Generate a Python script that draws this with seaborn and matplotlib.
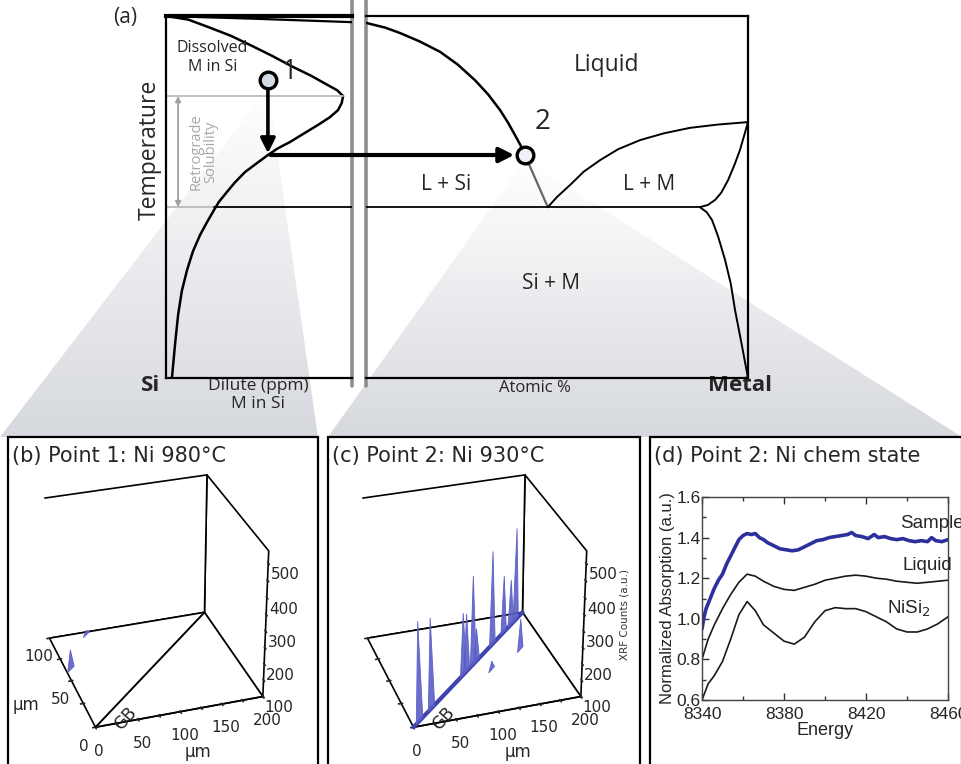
import numpy as np
import pandas as pd
import matplotlib
matplotlib.use("Agg")
import matplotlib.pyplot as plt
import seaborn as sns
from matplotlib.patches import Polygon, Rectangle
from mpl_toolkits.mplot3d.art3d import Poly3DCollection

# ---------------- data ----------------
# (a) schematic phase diagram, composition and temperature normalised 0-1
solvus_x = [0.0, 0.12, 0.24, 0.35, 0.46, 0.57, 0.68, 0.78, 0.86, 0.92, 0.952, 0.945, 0.925, 0.88, 0.817, 0.74, 0.667, 0.60, 0.548, 0.49, 0.425, 0.37, 0.323, 0.285, 0.258, 0.22, 0.183, 0.145, 0.113, 0.085, 0.065, 0.048, 0.032]
solvus_T = [1.0, 0.99, 0.967, 0.945, 0.918, 0.89, 0.86, 0.835, 0.812, 0.795, 0.779, 0.76, 0.74, 0.72, 0.699, 0.675, 0.652, 0.634, 0.616, 0.594, 0.569, 0.54, 0.511, 0.487, 0.464, 0.43, 0.395, 0.35, 0.298, 0.24, 0.174, 0.09, 0.0]
liqL_x = [0.0, 0.5, 1.0]
liqL_T = [1.0, 0.992, 0.983]
liqSi_x = [0.0, 0.05, 0.089, 0.14, 0.194, 0.24, 0.285, 0.32, 0.351, 0.372, 0.39, 0.405, 0.416]
liqSi_T = [0.981, 0.968, 0.953, 0.93, 0.901, 0.866, 0.823, 0.783, 0.740, 0.705, 0.671, 0.642, 0.616]
liqEu_x = [0.416, 0.476]
liqEu_T = [0.616, 0.472]
liqM_x = [0.476, 0.50, 0.534, 0.57, 0.613, 0.66, 0.717, 0.78, 0.848, 0.92, 1.0]
liqM_T = [0.472, 0.50, 0.533, 0.57, 0.602, 0.632, 0.657, 0.676, 0.691, 0.700, 0.707]
solM_x = [1.0, 0.99, 0.979, 0.965, 0.948, 0.93, 0.914, 0.895, 0.874]
solM_T = [0.707, 0.67, 0.630, 0.59, 0.547, 0.512, 0.492, 0.478, 0.472]
solvM_x = [0.874, 0.892, 0.906, 0.922, 0.940, 0.955, 0.966, 0.984, 1.0]
solvM_T = [0.472, 0.458, 0.436, 0.39, 0.326, 0.26, 0.188, 0.09, 0.0]
T_eut = 0.472
T_retro = 0.779
point1 = (0.548, 0.823)
point2 = (0.416, 0.616)
T_arrow = 0.616

# (b)/(c) XRF maps: spots (x um, y um, peak counts)
b_spot_x = [6.0, 45.0]
b_spot_y = [62.0, 97.0]
b_spot_z = [160.0, 112.0]
c_gb_frac = [0.05, 0.15, 0.43, 0.46, 0.52, 0.55, 0.70, 0.81, 0.88, 0.93]
c_gb_z = [397.0, 372.0, 290.0, 277.0, 373.0, 200.0, 390.0, 279.0, 243.0, 390.0]
c_off_x = [168.0, 121.0]
c_off_y = [59.0, 43.0]
c_off_z = [195.0, 125.0]
x_ticks = [0, 25, 50, 75, 100, 125, 150, 175, 200]
x_ticklabels = ["0", "", "50", "", "100", "", "150", "", "200"]
y_ticks = [0, 25, 50, 75, 100]
y_ticklabels = ["0", "", "50", "", "100"]
z_ticks = [100, 150, 200, 250, 300, 350, 400, 450, 500]
z_ticklabels = ["100", "", "200", "", "300", "", "400", "", "500"]

# (d) XANES
energy_s = [8340, 8341, 8342, 8344, 8346, 8348, 8350, 8352, 8354, 8356, 8358, 8360, 8362, 8364, 8366, 8368, 8370, 8372, 8375, 8378, 8381, 8384, 8387, 8390, 8393, 8396, 8399, 8402, 8405, 8408, 8411, 8413, 8415, 8418, 8421, 8424, 8426, 8429, 8432, 8435, 8438, 8441, 8444, 8447, 8450, 8452, 8454, 8457, 8460]
sample = [0.95, 1.01, 1.05, 1.10, 1.15, 1.19, 1.22, 1.27, 1.31, 1.35, 1.39, 1.41, 1.42, 1.415, 1.42, 1.40, 1.39, 1.375, 1.36, 1.345, 1.34, 1.335, 1.34, 1.355, 1.37, 1.385, 1.39, 1.40, 1.405, 1.41, 1.415, 1.425, 1.41, 1.405, 1.395, 1.415, 1.40, 1.405, 1.395, 1.39, 1.395, 1.385, 1.38, 1.385, 1.38, 1.40, 1.385, 1.38, 1.39]
energy_r = [8340, 8343, 8346, 8350, 8354, 8358, 8362, 8366, 8370, 8375, 8380, 8385, 8390, 8395, 8400, 8405, 8410, 8415, 8420, 8425, 8430, 8435, 8440, 8445, 8450, 8455, 8460]
liquid = [0.80, 0.90, 0.97, 1.05, 1.12, 1.18, 1.22, 1.21, 1.185, 1.16, 1.145, 1.14, 1.155, 1.17, 1.19, 1.20, 1.21, 1.215, 1.21, 1.20, 1.195, 1.185, 1.18, 1.175, 1.18, 1.185, 1.19]
nisi2 = [0.60, 0.68, 0.72, 0.79, 0.90, 1.02, 1.085, 1.04, 0.97, 0.93, 0.89, 0.875, 0.91, 0.985, 1.04, 1.055, 1.05, 1.05, 1.035, 1.01, 0.985, 0.95, 0.935, 0.935, 0.95, 0.975, 1.01]

# ---------------- figure ----------------
W, H = 962, 764
sns.set_theme(style="white")
plt.rcParams["font.family"] = ["DejaVu Sans"]
fig = plt.figure(figsize=(W / 100, H / 100), dpi=100)


def rect(x0, y0, x1, y1):
    return [x0 / W, 1 - y1 / H, (x1 - x0) / W, (y1 - y0) / H]


bg = fig.add_axes([0, 0, 1, 1], zorder=0)
bg.set_xlim(0, W)
bg.set_ylim(H, 0)
bg.axis("off")

# gradient wedges
grad = np.linspace(0, 1, 256)[:, None, None]
top_c = np.array([1.0, 1.0, 1.0])
bot_c = np.array([0.84, 0.85, 0.87])
img = top_c * (1 - grad) + bot_c * grad
for verts, ytop in [([(268, 88), (0, 437), (318, 437)], 88), ([(525, 160), (328, 437), (962, 437)], 160)]:
    poly = Polygon(verts, closed=True, facecolor="none", edgecolor="none")
    bg.add_patch(poly)
    im = bg.imshow(img, extent=(0, W, 437, ytop), aspect="auto", zorder=1)
    im.set_clip_path(poly)
bg.set_xlim(0, W)
bg.set_ylim(H, 0)

# separators
for xs in (352, 366):
    bg.plot([xs, xs], [0, 386], color="#8e8e8e", lw=2.6, zorder=5)

# bottom frames
for x0, x1 in [(8, 318), (328, 640), (650, 962)]:
    bg.add_patch(Rectangle((x0, 437), x1 - x0, 330, facecolor="white", edgecolor="black", lw=1.6, zorder=3))

# ---------------- panel (a) ----------------
OS = ["Open Sans", "DejaVu Sans"]
axL = fig.add_axes(rect(166, 16, 352, 378), zorder=4)
axR = fig.add_axes(rect(366, 16, 748, 378), zorder=4)
for ax in (axL, axR):
    ax.set_xlim(0, 1)
    ax.set_ylim(0, 1)
    ax.set_facecolor("none")
    ax.set_xticks([])
    ax.set_yticks([])
    for s in ax.spines.values():
        s.set_color("black")
        s.set_linewidth(1.6)
axL.spines["right"].set_visible(False)
axL.spines["top"].set_linewidth(3)
axR.spines["left"].set_visible(False)

def curve(ax, xs, ys, color="black", lw=1.8):
    sns.lineplot(x=xs, y=ys, ax=ax, sort=False, estimator=None, color=color, lw=lw)

curve(axL, solvus_x, solvus_T)
curve(axL, liqL_x, liqL_T, lw=1.6)
curve(axR, liqSi_x, liqSi_T)
curve(axR, liqEu_x, liqEu_T, color="#666666", lw=1.6)
curve(axR, liqM_x, liqM_T, lw=1.4)
curve(axR, solM_x, solM_T, lw=1.4)
curve(axR, solvM_x, solvM_T, lw=1.4)

# horizontal lines
axL.plot([0, 0.952], [T_retro, T_retro], color="#bbbbbb", lw=1.3)
axL.plot([0, 0.26], [T_eut, T_eut], color="#bbbbbb", lw=1.3)
axL.plot([0.26, 1.0], [T_eut, T_eut], color="black", lw=1.3)
axR.plot([0, 0.874], [T_eut, T_eut], color="black", lw=1.3)

# retrograde arrow
axL.annotate("", xy=(0.065, T_eut), xytext=(0.065, T_retro),
             arrowprops=dict(arrowstyle="<|-|>", color="#a0a0a0", lw=1.3, mutation_scale=8, shrinkA=0, shrinkB=0))
axL.text(0.2, 0.625, "Retrograde\nSolubility", rotation=90, color="#a8a8a8", fontsize=10.5,
         ha="center", va="center", family=OS, linespacing=1.0)
axL.text(0.25, 0.885, "Dissolved\nM in Si", fontsize=11.5, ha="center", va="center", family=OS, linespacing=1.25)

# arrows and points
axL.annotate("", xy=(point1[0], T_arrow + 0.005), xytext=(point1[0], point1[1] - 0.02),
             arrowprops=dict(arrowstyle="-|>", color="black", lw=2.6, mutation_scale=22, shrinkA=0, shrinkB=0))
axR.annotate("", xy=(point2[0] - 0.028, T_arrow), xycoords="data", xytext=(point1[0] + 0.015, T_arrow),
             textcoords=axL.transData,
             arrowprops=dict(arrowstyle="-|>", color="black", lw=3, mutation_scale=22, shrinkA=0, shrinkB=0))
axL.plot(*point1, "o", ms=12, mfc="#d3dbe6", mec="black", mew=2.4, zorder=6)
axR.plot(*point2, "o", ms=12, mfc="#eef1f5", mec="black", mew=2.4, zorder=6, clip_on=False)
axL.text(point1[0] + 0.07, point1[1] + 0.022, "1", fontsize=20, ha="left", va="center", family=OS)
axR.text(point2[0] + 0.025, point2[1] + 0.09, "2", fontsize=20, ha="left", va="center", family=OS)

# region labels
axR.text(0.63, 0.865, "Liquid", fontsize=16.5, ha="center", va="center", family=OS)
axR.text(0.21, 0.535, "L + Si", fontsize=15, ha="center", va="center", family=OS)
axR.text(0.74, 0.535, "L + M", fontsize=15, ha="center", va="center", family=OS)
axR.text(0.485, 0.262, "Si + M", fontsize=15, ha="center", va="center", family=OS)

fig.text(150 / W, 1 - 150 / H, "Temperature", rotation=90, fontsize=16.5, ha="center", va="center", family=OS)
fig.text(125 / W, 1 - 18 / H, "(a)", fontsize=15, ha="center", va="center", family=OS)
fig.text(151 / W, 1 - 386 / H, "Si", fontsize=16, fontweight="bold", ha="center", va="center", family=OS)
fig.text(740 / W, 1 - 386 / H, "Metal", fontsize=16, fontweight="bold", ha="center", va="center", family=OS)
fig.text(258 / W, 1 - 395 / H, "Dilute (ppm)\nM in Si", fontsize=12.5, ha="center", va="center", family=OS, linespacing=1.1)
fig.text(535 / W, 1 - 388 / H, "Atomic %", fontsize=12, ha="center", va="center", family=OS)

# ---------------- panels (b),(c) ----------------
SPIKE = "#5b5fc6"
ZMIN, ZMAX = 98, 535


def setup3d(ax, ylabels=True):
    ax.set_facecolor("none")
    ax.set_xlim(0, 200)
    ax.set_ylim(0, 100)
    ax.set_zlim(ZMIN, ZMAX)
    ax.set_box_aspect((1, 1, 0.95), zoom=0.95)
    ax.view_init(elev=30, azim=-108)
    ax.grid(False)
    for axis in (ax.xaxis, ax.yaxis, ax.zaxis):
        axis.set_pane_color((1, 1, 1, 1))
        axis.pane.set_edgecolor("black")
        axis.pane.set_linewidth(1.2)
        axis.line.set_color("black")
        axis.line.set_linewidth(1.2)
    ax.zaxis.set_ticks_position("lower")
    ax.set_xticks(x_ticks)
    ax.set_xticklabels(x_ticklabels, fontsize=11)
    ax.set_yticks(y_ticks)
    ax.set_yticklabels(y_ticklabels if ylabels else [""] * len(y_ticks), fontsize=11)
    ax.set_zticks(z_ticks)
    ax.set_zticklabels(z_ticklabels, fontsize=11)
    ax.tick_params(pad=0)
    ax.plot([0, 200], [0, 100], [ZMIN, ZMIN], color="black", lw=1.4, zorder=2)


def spikes(ax, xs, ys, zs, half=6.0):
    u = np.array([2.0, 1.0]) / np.sqrt(5)
    verts = []
    for x, y, z in zip(xs, ys, zs):
        verts.append([(x - half * u[0], y - half * u[1], ZMIN), (x + half * u[0], y + half * u[1], ZMIN), (x, y, z)])
    pc = Poly3DCollection(verts, facecolor=SPIKE, edgecolor=SPIKE, lw=0.6, alpha=0.9, zorder=3)
    ax.add_collection3d(pc)


axb = fig.add_axes(rect(-5, 450, 303, 752), projection="3d", zorder=6, computed_zorder=False)
setup3d(axb)
spikes(axb, b_spot_x, b_spot_y, b_spot_z)

axc = fig.add_axes(rect(313, 450, 621, 752), projection="3d", zorder=6, computed_zorder=False)
setup3d(axc, ylabels=False)
axc.plot([0, 200], [0, 100], [ZMIN, ZMIN], color="#3f43b0", lw=3.0, zorder=2)
gx = [200 * f for f in c_gb_frac]
gy = [100 * f for f in c_gb_frac]
spikes(axc, gx, gy, c_gb_z)
spikes(axc, c_off_x, c_off_y, c_off_z)

for x0, t in [(12, "(b) Point 1: Ni 980°C"), (332, "(c) Point 2: Ni 930°C"), (654, "(d) Point 2: Ni chem state")]:
    fig.text(x0 / W, 1 - 456 / H, t, fontsize=15, ha="left", va="center", zorder=10)
for xx, yy in [(198, 752), (518, 752)]:
    fig.text(xx / W, 1 - yy / H, "µm", fontsize=12, ha="center", va="center", zorder=10)
fig.text(26 / W, 1 - 705 / H, "µm", fontsize=12, ha="center", va="center", zorder=10)
fig.text(126 / W, 1 - 719 / H, "GB", fontsize=12, rotation=48, ha="center", va="center", zorder=10)
fig.text(444 / W, 1 - 719 / H, "GB", fontsize=12, rotation=48, ha="center", va="center", zorder=10)
fig.text(625 / W, 1 - 615 / H, "XRF Counts (a.u.)", fontsize=7.5, rotation=90, ha="center", va="center", color="#333333", zorder=10)

# ---------------- panel (d) ----------------
AR = ["Liberation Sans", "DejaVu Sans"]
axd = fig.add_axes(rect(702, 497, 948, 700), zorder=6)
dfs = pd.DataFrame({"E": energy_s, "A": sample})
dfr = pd.DataFrame({"E": energy_r, "L": liquid, "N": nisi2})
sns.lineplot(data=dfs, x="E", y="A", ax=axd, color="#2c2f9c", lw=2.6, estimator=None)
sns.lineplot(data=dfr, x="E", y="L", ax=axd, color="#1a1a1a", lw=1.2, estimator=None)
sns.lineplot(data=dfr, x="E", y="N", ax=axd, color="#1a1a1a", lw=1.2, estimator=None)
axd.set_xlim(8340, 8460)
axd.set_ylim(0.6, 1.6)
axd.set_xticks([8340, 8380, 8420, 8460])
axd.set_xticks([8360, 8400, 8440], minor=True)
axd.set_yticks([0.6, 0.8, 1.0, 1.2, 1.4, 1.6])
axd.set_yticks([0.7, 0.9, 1.1, 1.3, 1.5], minor=True)
axd.set_yticklabels(["0.6", "0.8", "1.0", "1.2", "1.4", "1.6"], family=AR, fontsize=12.5)
axd.set_xticklabels(["8340", "8380", "8420", "8460"], family=AR, fontsize=12.5)
axd.tick_params(which="both", direction="in", top=True, bottom=True, left=True, right=False, color="#333333")
axd.tick_params(which="major", length=5, width=1, pad=1)
axd.tick_params(axis="x", which="major", pad=5)
axd.tick_params(which="minor", length=3, width=1)
for s in axd.spines.values():
    s.set_color("#444444")
    s.set_linewidth(1.0)
axd.set_xlabel("Energy", family=AR, fontsize=13, labelpad=0)
axd.set_ylabel("Normalized Absorption (a.u.)", family=AR, fontsize=12, labelpad=1)
axd.text(8452, 1.47, "Sample", family=AR, fontsize=13.5, ha="center", va="center")
axd.text(8450, 1.265, "Liquid", family=AR, fontsize=13.5, ha="center", va="center")
axd.text(8441, 1.05, "NiSi$_2$", family=AR, fontsize=13.5, ha="center", va="center")

fig.savefig("out.png", dpi=100)
